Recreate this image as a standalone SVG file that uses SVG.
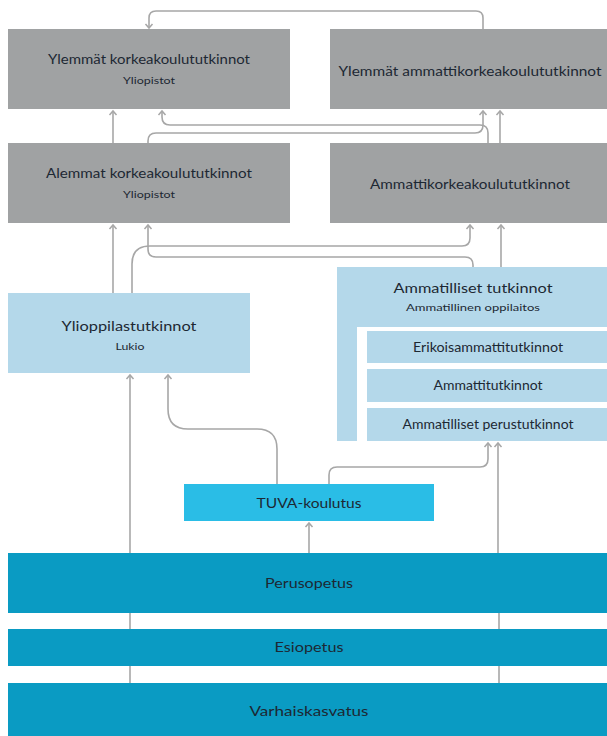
<svg xmlns="http://www.w3.org/2000/svg" width="607" height="736" viewBox="0 0 607 736">
<defs>
<style>
.gray{fill:#a0a2a3}
.lb{fill:#b4d8ea}
.tuva{fill:#2abde6}
.base{fill:#0a9bc3}
text{font-family:"Lato","Noto Sans","Liberation Sans",sans-serif;fill:#1d2833;text-anchor:middle}
.t{font-size:14px}
.s{font-size:10px}
.m{font-size:12.5px}
.c path{fill:none;stroke:#a7a7a7;stroke-width:1.6}
</style>
<marker id="ah" viewBox="-6 -5 8 10" markerWidth="8" markerHeight="10" refX="0" refY="0" orient="auto" markerUnits="userSpaceOnUse">
<path d="M-4,-3.5 L0,0 L-4,3.5" fill="none" stroke="#a7a7a7" stroke-width="1.5"/>
</marker>
</defs>
<rect width="607" height="736" fill="#ffffff"/>

<g class="c">
<path d="M483,29 V18 Q483,11 476,11 H156 Q149,11 149,18 V28" marker-end="url(#ah)"/>
<path d="M113,143 V111" marker-end="url(#ah)"/>
<path d="M148,143 V141 Q148,133 156,133 H475 Q483,133 483,125 V111" marker-end="url(#ah)"/>
<path d="M488,143 V133 Q488,125 480,125 H170 Q162,125 162,117 V111" marker-end="url(#ah)"/>
<path d="M500,143 V111" marker-end="url(#ah)"/>
<path d="M113,293 V225" marker-end="url(#ah)"/>
<path d="M132,293 V264 Q132,246 150,246 H462 Q470,246 470,238 V225" marker-end="url(#ah)"/>
<path d="M473,267 V265 Q473,257 465,257 H156 Q148,257 148,249 V225" marker-end="url(#ah)"/>
<path d="M501,267 V225" marker-end="url(#ah)"/>
<path d="M130,553 V375" marker-end="url(#ah)"/>
<path d="M277,484 V449 Q277,429 257,429 H188 Q168,429 168,409 V375" marker-end="url(#ah)"/>
<path d="M329,484 V475 Q329,467 337,467 H480 Q488,467 488,459 V443" marker-end="url(#ah)"/>
<path d="M309,553 V523" marker-end="url(#ah)"/>
<path d="M498,553 V443" marker-end="url(#ah)"/>
<path d="M130,613 V629 M130,666 V683 M499,613 V629 M499,666 V683"/>
</g>

<g id="ylemmat-korkeakoulu">
<rect class="gray" x="8" y="29" width="282" height="80"/>
<text class="t" x="149" y="64" textLength="202" lengthAdjust="spacingAndGlyphs">Ylemmät korkeakoulututkinnot</text>
<text class="s" x="149" y="84" textLength="52" lengthAdjust="spacingAndGlyphs">Yliopistot</text>
</g>
<g id="ylemmat-amk">
<rect class="gray" x="330" y="29" width="277" height="80"/>
<text class="t" x="470" y="76" textLength="263" lengthAdjust="spacingAndGlyphs">Ylemmät ammattikorkeakoulututkinnot</text>
</g>
<g id="alemmat-korkeakoulu">
<rect class="gray" x="8" y="143" width="282" height="80"/>
<text class="t" x="149" y="178" textLength="206" lengthAdjust="spacingAndGlyphs">Alemmat korkeakoulututkinnot</text>
<text class="s" x="149" y="198" textLength="52" lengthAdjust="spacingAndGlyphs">Yliopistot</text>
</g>
<g id="amk">
<rect class="gray" x="330" y="143" width="277" height="80"/>
<text class="t" x="470" y="189" textLength="200" lengthAdjust="spacingAndGlyphs">Ammattikorkeakoulututkinnot</text>
</g>
<g id="ylioppilas">
<rect class="lb" x="8" y="293" width="242" height="80"/>
<text class="t" x="129" y="331" textLength="135" lengthAdjust="spacingAndGlyphs">Ylioppilastutkinnot</text>
<text class="s" x="130" y="350" textLength="29" lengthAdjust="spacingAndGlyphs">Lukio</text>
</g>
<g id="ammatilliset">
<rect class="lb" x="337" y="267" width="270" height="174"/>
<rect fill="#ffffff" x="357" y="327" width="250" height="114"/>
<text class="t" x="473" y="293" textLength="159" lengthAdjust="spacingAndGlyphs">Ammatilliset tutkinnot</text>
<text class="s" x="473" y="311" textLength="134" lengthAdjust="spacingAndGlyphs">Ammatillinen oppilaitos</text>
</g>
<g id="erikoisammatti">
<rect class="lb" x="367" y="331" width="240" height="32"/>
<text class="m" x="488" y="352" textLength="150" lengthAdjust="spacingAndGlyphs">Erikoisammattitutkinnot</text>
</g>
<g id="ammattitutkinnot">
<rect class="lb" x="367" y="369" width="240" height="33"/>
<text class="m" x="488" y="390" textLength="109" lengthAdjust="spacingAndGlyphs">Ammattitutkinnot</text>
</g>
<g id="perustutkinnot">
<rect class="lb" x="367" y="408" width="240" height="33"/>
<text class="m" x="488" y="429" textLength="171" lengthAdjust="spacingAndGlyphs">Ammatilliset perustutkinnot</text>
</g>
<g id="tuva">
<rect class="tuva" x="184" y="484" width="250" height="37"/>
<text class="t" x="309" y="508" textLength="105" lengthAdjust="spacingAndGlyphs">TUVA-koulutus</text>
</g>
<g id="perusopetus">
<rect class="base" x="8" y="553" width="599" height="60"/>
<text class="t" x="309" y="588" textLength="88" lengthAdjust="spacingAndGlyphs">Perusopetus</text>
</g>
<g id="esiopetus">
<rect class="base" x="8" y="629" width="599" height="37"/>
<text class="t" x="309" y="652" textLength="69" lengthAdjust="spacingAndGlyphs">Esiopetus</text>
</g>
<g id="varhaiskasvatus">
<rect class="base" x="8" y="683" width="599" height="53"/>
<text class="t" x="309" y="716" textLength="119" lengthAdjust="spacingAndGlyphs">Varhaiskasvatus</text>
</g>
</svg>
